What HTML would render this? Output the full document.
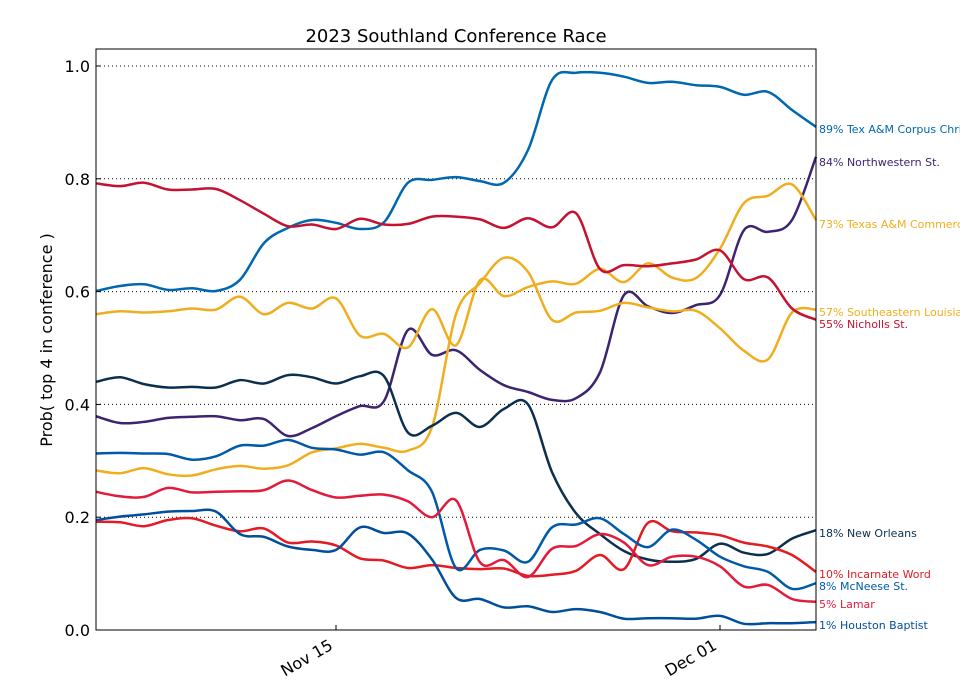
<!DOCTYPE html>
<html><head><meta charset="utf-8"><style>
body{margin:0;background:#fff;}
svg{display:block;font-family:"DejaVu Sans","Liberation Sans",sans-serif;}
</style></head><body>
<svg id="chart" width="960" height="700" viewBox="0 0 960 700" xmlns="http://www.w3.org/2000/svg">
<text x="456" y="42" font-size="18" text-anchor="middle" fill="#000">2023 Southland Conference Race</text>
<g id="grid"></g>
<g id="series"></g>
<g id="labels"></g>
<rect x="96" y="49" width="720" height="581" fill="none" stroke="#000" stroke-width="1"/>
<g id="axes"></g>
<text transform="translate(52,340) rotate(-90)" font-size="16" text-anchor="middle">Prob( top 4 in conference )</text>
</svg>
<script>
const days = [0,1,2,3,4,5,6,7,8,9,10,11,12,13,14,15,16,17,18,19,20,21,22,23,24,25,26,27,28,29,30];
const yTicks = [0,0.2,0.4,0.6,0.8,1.0];
const yTickLabels = ["0.0","0.2","0.4","0.6","0.8","1.0"];
const xTicks = [10,26];
const xTickLabels = ["Nov 15","Dec 01"];
const teamNames = ["Tex A&M Corpus Christi","Northwestern St.","Texas A&M Commerce","Southeastern Louisiana","Nicholls St.","New Orleans","Incarnate Word","McNeese St.","Lamar","Houston Baptist"];
const teamColors = ["#0067b1","#3d2470","#f0ae1e","#f0ae1e","#c41230","#0b2f4f","#e31b23","#005aa9","#e21b3c","#004f9d"];
const labelY = [129,162,224,312,324,533,574,586,604,625];
const tamucc = [0.601,0.610,0.613,0.603,0.606,0.601,0.621,0.686,0.713,0.727,0.722,0.711,0.723,0.793,0.798,0.803,0.796,0.793,0.851,0.975,0.988,0.988,0.981,0.970,0.972,0.966,0.963,0.949,0.954,0.922,0.892];
const nwst = [0.379,0.367,0.369,0.376,0.378,0.379,0.372,0.374,0.344,0.358,0.379,0.397,0.406,0.532,0.488,0.496,0.461,0.434,0.422,0.408,0.411,0.457,0.594,0.574,0.562,0.576,0.594,0.709,0.706,0.727,0.839];
const commerce = [0.560,0.565,0.563,0.565,0.570,0.568,0.591,0.560,0.580,0.570,0.588,0.522,0.525,0.501,0.569,0.505,0.620,0.592,0.608,0.618,0.614,0.640,0.617,0.650,0.625,0.624,0.676,0.757,0.770,0.790,0.727];
const sela = [0.283,0.278,0.287,0.276,0.274,0.285,0.291,0.286,0.292,0.315,0.322,0.330,0.323,0.318,0.360,0.560,0.615,0.660,0.635,0.550,0.563,0.566,0.580,0.572,0.565,0.566,0.535,0.495,0.480,0.563,0.568];
const nicholls = [0.792,0.787,0.793,0.781,0.781,0.782,0.762,0.738,0.716,0.719,0.711,0.729,0.719,0.720,0.733,0.733,0.728,0.713,0.730,0.714,0.739,0.640,0.647,0.645,0.650,0.657,0.673,0.622,0.625,0.570,0.550];
const uno = [0.440,0.448,0.436,0.430,0.431,0.430,0.443,0.437,0.452,0.448,0.437,0.450,0.450,0.350,0.362,0.385,0.360,0.392,0.400,0.280,0.207,0.170,0.140,0.125,0.121,0.126,0.153,0.137,0.135,0.162,0.177];
const uiw = [0.192,0.191,0.184,0.195,0.198,0.185,0.175,0.180,0.155,0.157,0.150,0.127,0.123,0.110,0.115,0.110,0.108,0.109,0.096,0.098,0.105,0.133,0.108,0.190,0.175,0.173,0.168,0.155,0.148,0.133,0.103];
const mcneese = [0.313,0.314,0.313,0.312,0.302,0.308,0.327,0.327,0.337,0.323,0.320,0.311,0.315,0.283,0.245,0.110,0.142,0.141,0.121,0.182,0.187,0.198,0.170,0.147,0.178,0.160,0.130,0.113,0.103,0.073,0.083];
const lamar = [0.245,0.237,0.236,0.252,0.244,0.245,0.246,0.248,0.265,0.248,0.235,0.238,0.240,0.228,0.200,0.230,0.120,0.124,0.094,0.144,0.149,0.170,0.155,0.115,0.130,0.130,0.113,0.077,0.080,0.055,0.050];
const hbu = [0.195,0.201,0.205,0.210,0.211,0.210,0.170,0.165,0.148,0.142,0.142,0.182,0.172,0.171,0.125,0.057,0.055,0.040,0.042,0.032,0.037,0.032,0.020,0.021,0.021,0.020,0.025,0.011,0.012,0.012,0.014];
const seriesList = [tamucc,nwst,commerce,sela,nicholls,uno,uiw,mcneese,lamar,hbu];

const NS="http://www.w3.org/2000/svg";
const X0=96,X1=816,Y0=630,Y1=66;
const xScale=d=>X0+(d-days[0])/(days[days.length-1]-days[0])*(X1-X0);
const yScale=v=>Y0-v*(Y0-Y1);
function mk(tag,attrs,parent){const e=document.createElementNS(NS,tag);for(const k in attrs)e.setAttribute(k,attrs[k]);parent.appendChild(e);return e;}
const grid=document.getElementById('grid'),axes=document.getElementById('axes');
yTicks.forEach((t,i)=>{
  const y=yScale(t);
  if(t>0){const g=mk('line',{x1:X0,x2:X1,y1:y,y2:y,stroke:'#000','stroke-width':1,'stroke-dasharray':'1,3'},grid);
  
  }
  const tk=mk('line',{x1:X0,x2:X0+5,y1:y,y2:y,stroke:'#000'},axes);
  
  
  const tx=mk('text',{x:X0-6,y:y+6,'font-size':16,'text-anchor':'end'},axes);
  
  
  tx.textContent=yTickLabels[i];
});
xTicks.forEach((t,i)=>{
  const x=xScale(t);
  const tk=mk('line',{x1:x,x2:x,y1:Y0,y2:Y0-5,stroke:'#000'},axes);
  
  
  const lx=x-8;
  const tx=mk('text',{x:lx,y:Y0+8,'font-size':16,'text-anchor':'end',transform:`rotate(-30 ${lx} ${Y0+8})`},axes);
  
  
  tx.setAttribute('dy','12');
  tx.textContent=xTickLabels[i];
});
function smooth(pts){
  let d=`M${pts[0][0]},${pts[0][1]}`;
  for(let i=0;i<pts.length-1;i++){
    const p0=pts[i-1]||pts[i],p1=pts[i],p2=pts[i+1],p3=pts[i+2]||p2;
    const c1=[p1[0]+(p2[0]-p0[0])/6,p1[1]+(p2[1]-p0[1])/6];
    const c2=[p2[0]-(p3[0]-p1[0])/6,p2[1]-(p3[1]-p1[1])/6];
    d+=`C${c1[0].toFixed(1)},${c1[1].toFixed(1)} ${c2[0].toFixed(1)},${c2[1].toFixed(1)} ${p2[0].toFixed(1)},${p2[1].toFixed(1)}`;
  }
  return d;
}
const sg=document.getElementById('series'),lg=document.getElementById('labels');
seriesList.forEach((vals,i)=>{
  const pts=vals.map((v,j)=>[xScale(days[j]),yScale(v)]);
  const p=mk('path',{d:smooth(pts),fill:'none',stroke:teamColors[i],'stroke-width':2.5,'stroke-linejoin':'round'},sg);
  
  
  const t=mk('text',{x:819,y:labelY[i]+4,'font-size':11,fill:teamColors[i]},lg);
  
  
  t.textContent=Math.round(vals[vals.length-1]*100)+'% '+teamNames[i];
});
</script>
</body></html>
